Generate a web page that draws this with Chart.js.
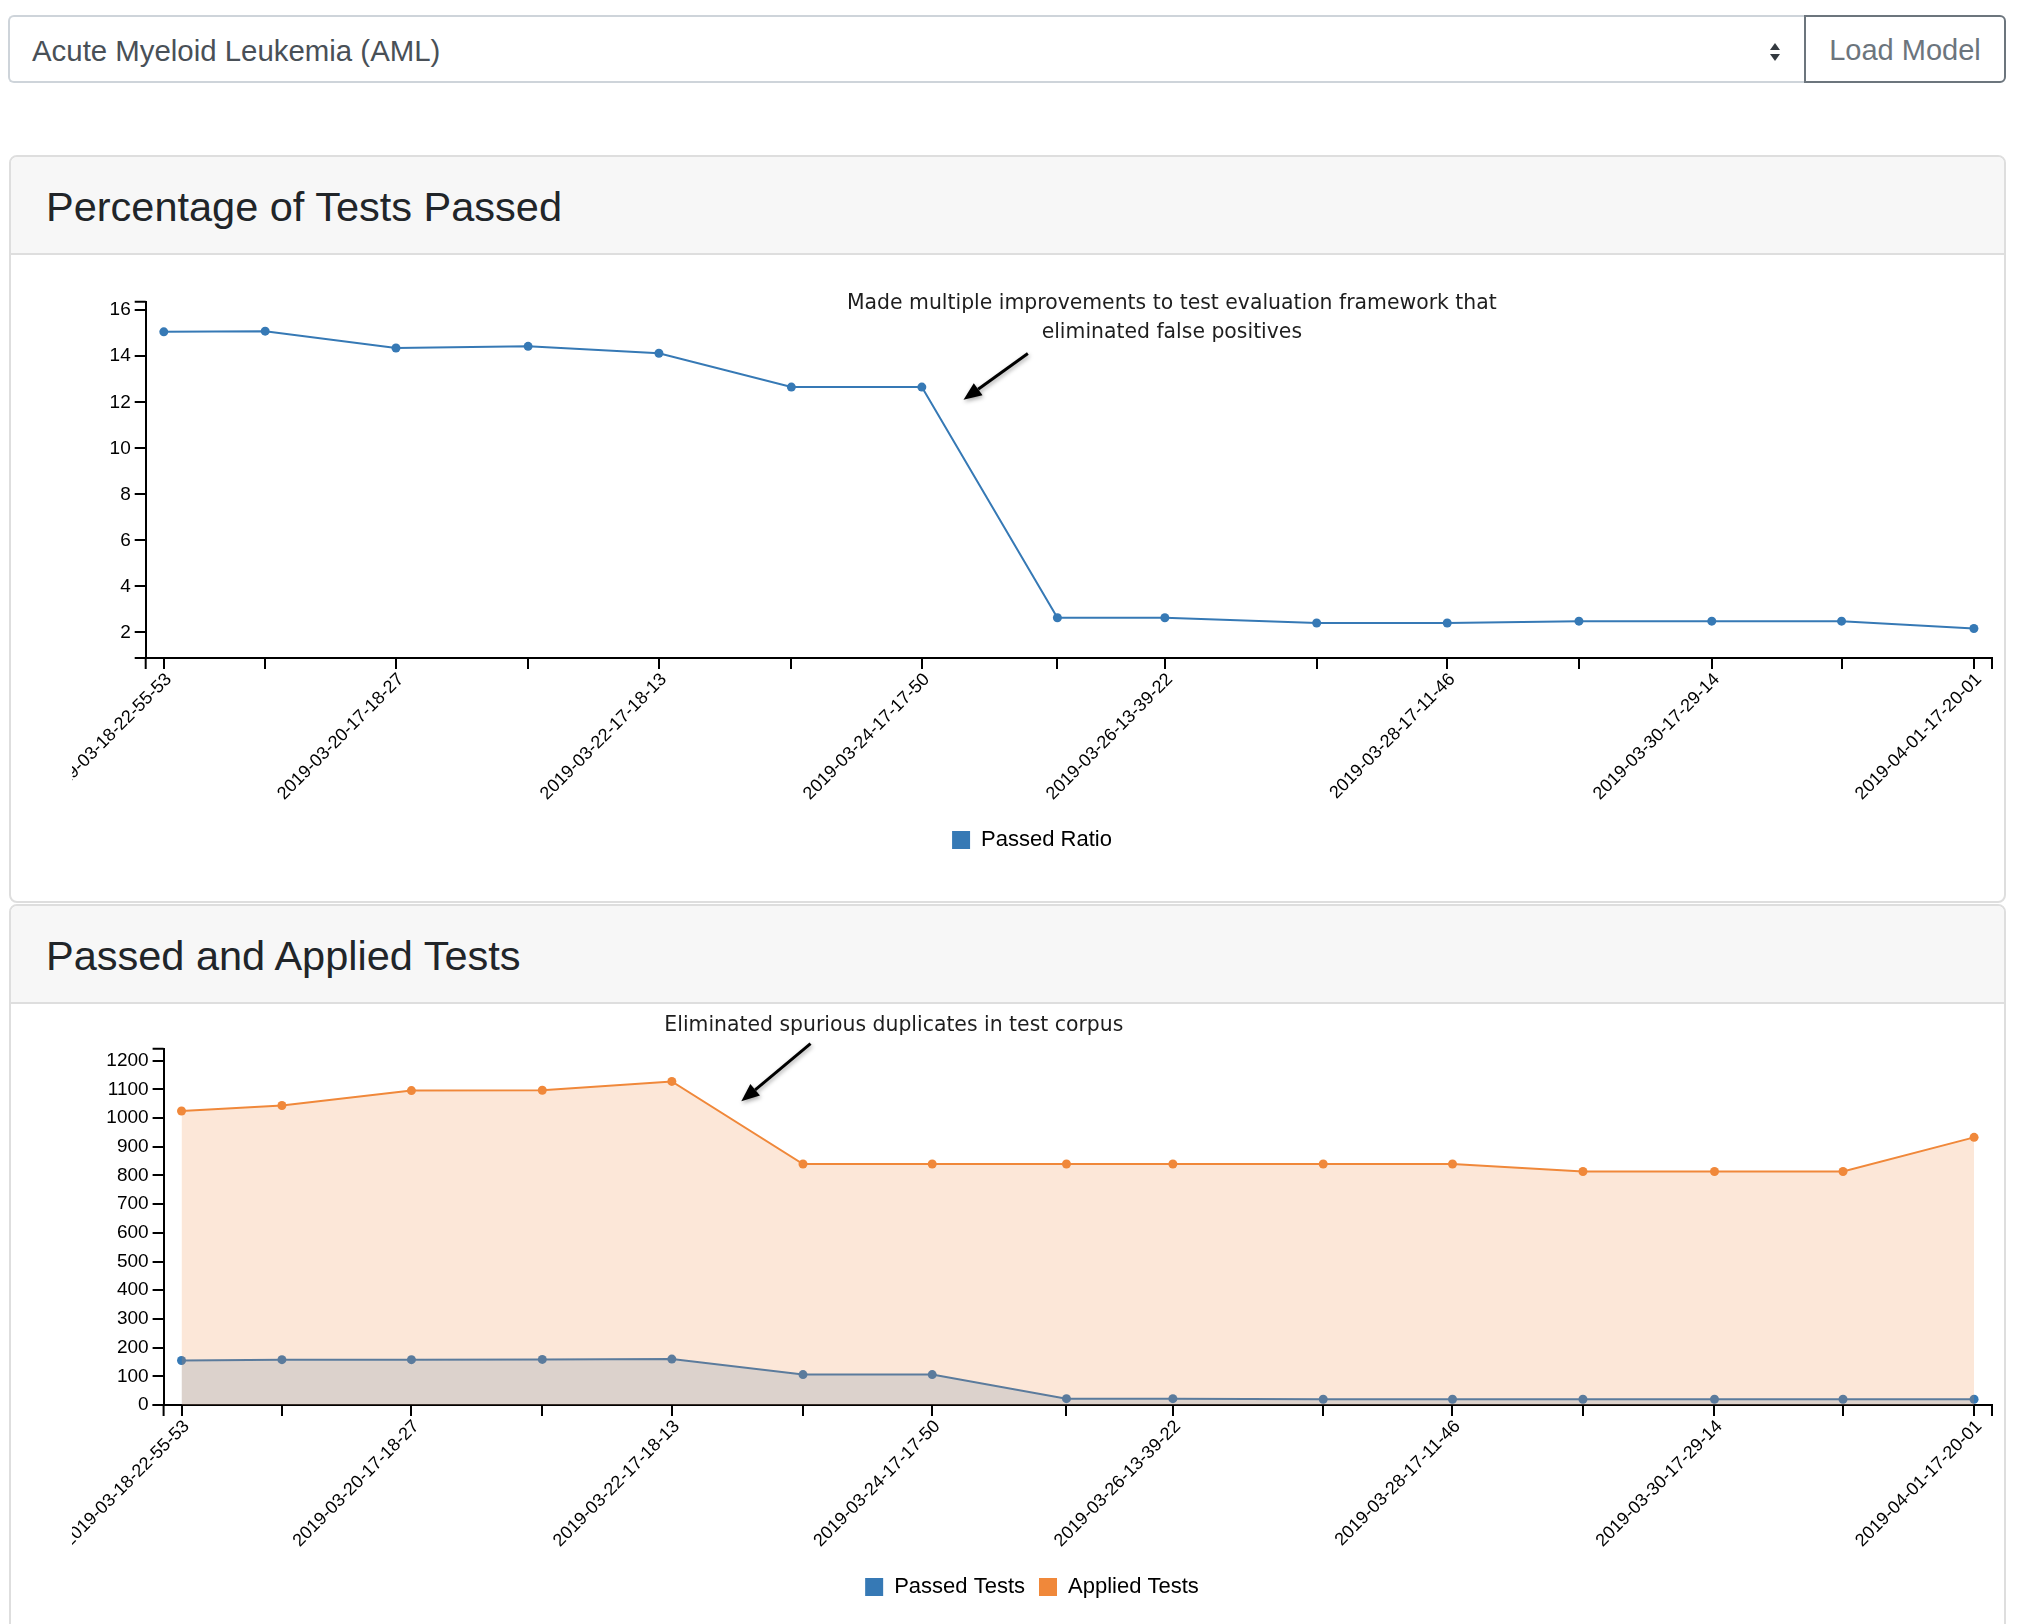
<!DOCTYPE html>
<html>
<head>
<meta charset="utf-8">
<script src="https://cdn.jsdelivr.net/npm/chart.js@4.4.1/dist/chart.umd.min.js"></script>
<style>
html,body{margin:0;padding:0;background:#fff;}
body{width:2020px;height:1624px;overflow:hidden;position:relative;font-family:'Liberation Sans',Arial,Helvetica,sans-serif;}
.select{position:absolute;left:8px;top:15px;width:1798px;height:68px;box-sizing:border-box;border:2px solid #ced4da;border-right:none;border-radius:6px 0 0 6px;background:#fff;}
.select span{position:absolute;left:22px;top:2px;line-height:64px;font-size:29.4px;color:#495057;}
.select svg{position:absolute;left:1759px;top:25px;}
.btn{position:absolute;left:1804px;top:15px;width:202px;height:68px;box-sizing:border-box;border:2px solid #6c757d;border-radius:0 6px 6px 0;color:#6c757d;font-size:29px;line-height:66px;text-align:center;}
.card{position:absolute;left:9px;width:1997px;box-sizing:border-box;border:2px solid #dedede;border-radius:8px;background:#fff;}
.card .hdr{height:98px;box-sizing:border-box;background:#f7f7f7;border-bottom:2px solid #dedede;border-radius:6px 6px 0 0;padding-left:35px;font-size:41.5px;line-height:99px;color:#212529;}
.wrap{position:absolute;left:72px;width:1934px;height:604px;}
</style>
</head>
<body>
<div class="select"><span>Acute Myeloid Leukemia (AML)</span>
<svg width="12" height="20" viewBox="0 0 12 20"><polygon points="1,8 6,1 11,8" fill="#343a40"/><polygon points="1,12 6,19 11,12" fill="#343a40"/></svg>
</div>
<div class="btn">Load Model</div>

<div class="card" style="top:155px;height:748px;"><div class="hdr">Percentage of Tests Passed</div></div>
<div class="card" style="top:904px;height:800px;"><div class="hdr">Passed and Applied Tests</div></div>

<div class="wrap" style="top:257px;"><canvas id="c1" width="1934" height="604"></canvas></div>
<div class="wrap" style="top:1004px;"><canvas id="c2" width="1934" height="604"></canvas></div>

<script>
// ---- data ----
const timestamps = [
  "2019-03-18-22-55-53",
  "2019-03-19-17-26-12",
  "2019-03-20-17-18-27",
  "2019-03-21-17-25-40",
  "2019-03-22-17-18-13",
  "2019-03-23-17-28-51",
  "2019-03-24-17-17-50",
  "2019-03-25-18-02-33",
  "2019-03-26-13-39-22",
  "2019-03-27-17-22-05",
  "2019-03-28-17-11-46",
  "2019-03-29-17-14-27",
  "2019-03-30-17-29-14",
  "2019-03-31-17-10-38",
  "2019-04-01-17-20-01"
];
const passedRatio  = [15.06, 15.09, 14.36, 14.43, 14.13, 12.66, 12.66, 2.64, 2.64, 2.41, 2.41, 2.49, 2.49, 2.49, 2.17];
const passedTests  = [155, 158, 158, 159, 160, 106, 106, 22, 22, 20, 20, 20, 20, 20, 20];
const appliedTests = [1025, 1044, 1096, 1097, 1128, 840, 840, 840, 840, 840, 840, 814, 814, 814, 933];
const ratioTicks = [2, 4, 6, 8, 10, 12, 14, 16];
const countTicks = [0, 100, 200, 300, 400, 500, 600, 700, 800, 900, 1000, 1100, 1200];
const ratioRange = [0.89, 16.37];
const countRange = [0, 1242];
const ratioLabel = "Passed Ratio";
const passedLabel = "Passed Tests";
const appliedLabel = "Applied Tests";
const note1 = ["Made multiple improvements to test evaluation framework that", "eliminated false positives"];
const note2 = ["Eliminated spurious duplicates in test corpus"];

// ---- helpers ----
const BLUE = '#3679b5';
const ORANGE = '#f0883a';
const BLUE_FILL = 'rgba(54,121,181,0.2)';
const ORANGE_FILL = 'rgba(240,136,58,0.2)';
const FONT = "'Liberation Sans', Arial, Helvetica, sans-serif";

function toMs(s){ const p = s.split('-').map(Number); return Date.UTC(p[0], p[1]-1, p[2], p[3], p[4], p[5]); }
const t0 = toMs(timestamps[0]);
const hours = timestamps.map(s => (toMs(s) - t0) / 3600000);
const span = hours[hours.length-1] - hours[0];
const xMin = hours[0] - span * 0.01;
const xMax = hours[hours.length-1] + span * 0.01;
const pts = vals => vals.map((v,i) => ({x: hours[i], y: v}));

const outerTicks = {
  id: 'outerTicks',
  afterDraw(chart){
    const {ctx, chartArea:{left,right,top,bottom}} = chart;
    ctx.save();
    ctx.strokeStyle = '#000'; ctx.lineWidth = 2;
    ctx.beginPath();
    ctx.moveTo(left-11, top); ctx.lineTo(left, top);
    ctx.moveTo(left-11, bottom); ctx.lineTo(left, bottom);
    ctx.moveTo(left, bottom); ctx.lineTo(left, bottom+11);
    ctx.moveTo(right, bottom); ctx.lineTo(right, bottom+11);
    ctx.stroke();
    ctx.restore();
  }
};

const annot = {
  id: 'annot',
  afterDatasetsDraw(chart, args, o){
    if (!o || !o.lines) return;
    const p = chart.getDatasetMeta(o.datasetIndex).data[o.index];
    const ctx = chart.ctx;
    ctx.save();
    ctx.font = "20.4px 'DejaVu Sans', Verdana, sans-serif";
    ctx.fillStyle = '#1e1e1e';
    ctx.textAlign = 'center';
    ctx.textBaseline = 'middle';
    o.lines.forEach((t,i) => ctx.fillText(t, p.x + o.text[0], p.y + o.text[1] + i*28.3));
    const x1 = p.x + o.from[0], y1 = p.y + o.from[1];
    const x2 = p.x + o.to[0],   y2 = p.y + o.to[1];
    const a = Math.atan2(y2-y1, x2-x1);
    const hl = 18, hw = 7.5;
    const bx = x2 - hl*Math.cos(a), by = y2 - hl*Math.sin(a);
    ctx.shadowColor = 'rgba(0,0,0,0.35)'; ctx.shadowBlur = 4; ctx.shadowOffsetX = 1; ctx.shadowOffsetY = 2;
    ctx.strokeStyle = '#000'; ctx.fillStyle = '#000'; ctx.lineWidth = 3;
    ctx.beginPath(); ctx.moveTo(x1,y1); ctx.lineTo(bx,by); ctx.stroke();
    ctx.beginPath();
    ctx.moveTo(x2,y2);
    ctx.lineTo(bx + hw*Math.sin(a), by - hw*Math.cos(a));
    ctx.lineTo(bx - hw*Math.sin(a), by + hw*Math.cos(a));
    ctx.closePath(); ctx.fill();
    ctx.restore();
  }
};

function makeChart(id, datasets, yRange, yTicks, yWidth, note){
  return new Chart(document.getElementById(id), {
    type: 'line',
    data: { datasets },
    plugins: [outerTicks, annot],
    options: {
      responsive: false,
      devicePixelRatio: 1,
      animation: false,
      events: [],
      layout: { padding: { top: 44.7, right: 14, bottom: 0, left: 0 } },
      elements: { line: { tension: 0, borderWidth: 2 }, point: { radius: 4.5, borderWidth: 0 } },
      scales: {
        x: {
          type: 'linear', min: xMin, max: xMax,
          afterBuildTicks: s => { s.ticks = hours.map(v => ({value: v})); },
          afterFit: s => { s.height = 157; s.paddingLeft = 0; s.paddingRight = 0; },
          grid: { drawOnChartArea: false, drawTicks: true, tickLength: 11, color: '#000', lineWidth: 2 },
          border: { display: true, color: '#000', width: 2 },
          ticks: {
            autoSkip: false, minRotation: 45, maxRotation: 45, padding: 0, labelOffset: 5,
            color: '#000', font: { family: FONT, size: 18 },
            callback: (v, i) => (i % 2 === 0 ? timestamps[i] : '')
          }
        },
        y: {
          min: yRange[0], max: yRange[1],
          afterBuildTicks: s => { s.ticks = yTicks.map(v => ({value: v})); },
          afterFit: s => { s.width = yWidth; s.paddingTop = 0; s.paddingBottom = 0; },
          grid: { drawOnChartArea: false, drawTicks: true, tickLength: 11, color: '#000', lineWidth: 2 },
          border: { display: true, color: '#000', width: 2 },
          ticks: { padding: 4, color: '#000', font: { family: FONT, size: 19 }, callback: v => String(v) }
        }
      },
      plugins: {
        tooltip: { enabled: false },
        legend: {
          position: 'bottom',
          labels: {
            boxWidth: 18, boxHeight: 18, padding: 14, color: '#000',
            font: { family: FONT, size: 22 },
            generateLabels: chart => chart.data.datasets.map((ds, i) => ({
              text: ds.label, fillStyle: ds.borderColor, strokeStyle: ds.borderColor,
              lineWidth: 0, hidden: false, datasetIndex: i
            }))
          }
        },
        annot: note
      }
    }
  });
}

makeChart('c1', [
  { label: ratioLabel, data: pts(passedRatio), borderColor: BLUE, backgroundColor: BLUE,
    pointBackgroundColor: BLUE, fill: false }
], ratioRange, ratioTicks, 73.7,
  { datasetIndex: 0, index: 6, lines: note1, text: [250, -83], from: [106, -33.6], to: [41.7, 12.7] });

makeChart('c2', [
  { label: passedLabel, data: pts(passedTests), borderColor: BLUE, backgroundColor: BLUE_FILL,
    pointBackgroundColor: BLUE, fill: 'origin', order: 1 },
  { label: appliedLabel, data: pts(appliedTests), borderColor: ORANGE, backgroundColor: ORANGE_FILL,
    pointBackgroundColor: ORANGE, fill: 'origin', order: 0 }
], countRange, countTicks, 91.6,
  { datasetIndex: 1, index: 4, lines: note2, text: [222, -56], from: [138.7, -37.7], to: [69.5, 19.9] });
</script>
</body>
</html>
